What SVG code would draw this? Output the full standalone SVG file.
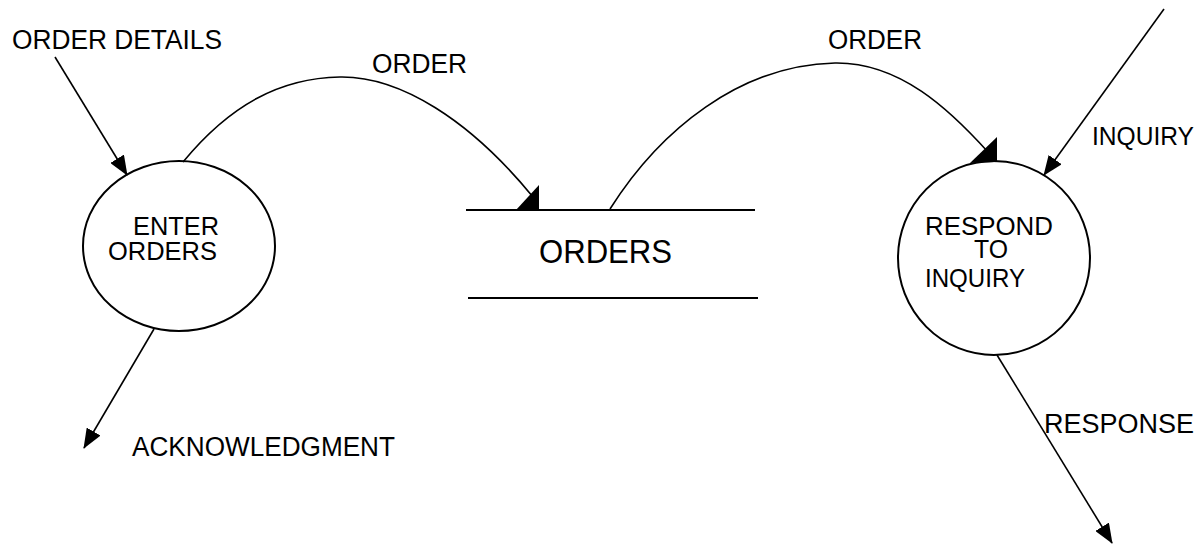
<svg xmlns="http://www.w3.org/2000/svg" width="1200" height="544" viewBox="0 0 1200 544">
<style>
  .t { font-family: "Liberation Sans", Arial, sans-serif; font-size: 27px; fill: #000; }
  .big { font-size: 33px; }
  .sm { font-size: 25px; }
  .node { fill: none; stroke: #000; stroke-width: 2; }
  .flow { fill: none; stroke: #000; stroke-width: 1.6; }
  .head { fill: #000; stroke: none; }
</style>
<defs>
  <marker id="arr" viewBox="0 0 20 16" refX="19" refY="8" markerWidth="20" markerHeight="16" markerUnits="userSpaceOnUse" orient="auto">
    <path d="M0,0 L20,8 L0,16 z" fill="#000"/>
  </marker>
</defs>
<rect width="1200" height="544" fill="#fff"/>

<g id="enter-orders">
  <ellipse class="node" cx="179" cy="246" rx="96" ry="85"/>
  <text class="t sm" x="133" y="235" textLength="86" lengthAdjust="spacingAndGlyphs">ENTER</text>
  <text class="t sm" x="108" y="260" textLength="109" lengthAdjust="spacingAndGlyphs">ORDERS</text>
</g>

<g id="orders-store">
  <line class="node" x1="466" y1="210" x2="755" y2="210"/>
  <line class="node" x1="468" y1="298" x2="758" y2="298"/>
  <text class="t big" x="539" y="263" textLength="133" lengthAdjust="spacingAndGlyphs">ORDERS</text>
</g>

<g id="respond-to-inquiry">
  <ellipse class="node" cx="994" cy="258" rx="96" ry="97"/>
  <text class="t sm" x="925" y="235" textLength="128" lengthAdjust="spacingAndGlyphs">RESPOND</text>
  <text class="t sm" x="974" y="258" textLength="34" lengthAdjust="spacingAndGlyphs">TO</text>
  <text class="t sm" x="925" y="287" textLength="100" lengthAdjust="spacingAndGlyphs">INQUIRY</text>
</g>

<g id="connectors">
  <line class="flow" x1="55" y1="57" x2="127" y2="175" marker-end="url(#arr)"/>
  <line class="flow" x1="154" y1="329" x2="84" y2="448" marker-end="url(#arr)"/>
  <line class="flow" x1="1164" y1="9" x2="1044" y2="175" marker-end="url(#arr)"/>
  <line class="flow" x1="997" y1="355" x2="1112" y2="543" marker-end="url(#arr)"/>
  <path class="flow" d="M183,162 C230,105 280,78 340,77 C400,76 470,120 533,197"/>
  <polygon class="head" points="516,210 539,210 539,185"/>
  <path class="flow" d="M610,209 C660,130 740,65 835,63 C900,62 950,110 988,152"/>
  <polygon class="head" points="970,163 997,162 997,137"/>
  <text class="t" x="12" y="49" textLength="210" lengthAdjust="spacingAndGlyphs">ORDER DETAILS</text>
  <text class="t" x="372" y="73" textLength="95" lengthAdjust="spacingAndGlyphs">ORDER</text>
  <text class="t" x="828" y="49" textLength="94" lengthAdjust="spacingAndGlyphs">ORDER</text>
  <text class="t sm" x="1092" y="145" textLength="102" lengthAdjust="spacingAndGlyphs">INQUIRY</text>
  <text class="t" x="132" y="456" textLength="263" lengthAdjust="spacingAndGlyphs">ACKNOWLEDGMENT</text>
  <text class="t" x="1044" y="433" textLength="150" lengthAdjust="spacingAndGlyphs">RESPONSE</text>
</g>
</svg>
